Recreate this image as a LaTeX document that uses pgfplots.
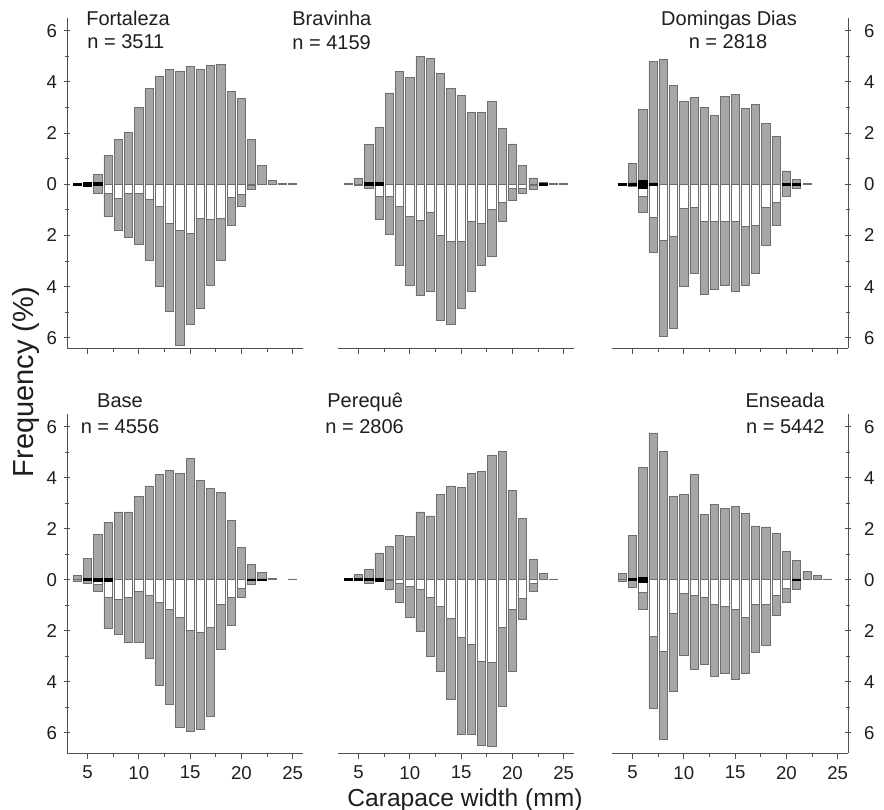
\documentclass[border=0pt]{standalone}
\usepackage{fontspec}
\setmainfont{Liberation Sans}
\usepackage{pgfplots}
\usepackage{pgfplotstable}
\pgfplotsset{compat=1.18}

\definecolor{barg}{HTML}{A6A6A6}
\definecolor{bard}{HTML}{6E6E6E}
\definecolor{axc}{HTML}{505050}
\definecolor{txt}{HTML}{1E1E1E}

% columns: size class, males (up), white part (down), gray total (down), black half (up / down)
\pgfplotstableread{
x  up    wt     tot    bk    bn
4  nan   nan    nan    0.03  -0.03
5  nan   nan    nan    0.07  -0.07
6  0.39  nan    -0.34  0.06  -0.06
7  1.12  -0.34  -1.27  nan   nan
8  1.75  -0.55  -1.82  nan   nan
9  2.03  -0.36  -2.08  nan   nan
10 3.00  -0.36  -2.35  nan   nan
11 3.73  -0.58  -2.96  nan   nan
12 4.23  -0.88  -4.00  nan   nan
13 4.48  -1.53  -4.95  nan   nan
14 4.40  -1.79  -6.30  nan   nan
15 4.61  -1.92  -5.49  nan   nan
16 4.48  -1.34  -4.84  nan   nan
17 4.64  -1.38  -3.96  nan   nan
18 4.68  -1.34  -2.96  nan   nan
19 3.62  -0.52  -1.62  nan   nan
20 3.36  -0.39  -0.88  nan   nan
21 1.75  -0.05  -0.20  nan   nan
22 0.75  nan    nan    nan   nan
23 0.15  nan    nan    nan   nan
24 0.03  nan    nan    nan   nan
25 0.03  nan    nan    nan   nan
}\fortaleza

\pgfplotstableread{
x  up    wt     tot    bk    bn
4  0.03  nan    nan    nan   nan
5  0.25  nan    -0.05  nan   nan
6  1.56  nan    -0.17  0.06  -0.06
7  2.23  -0.49  -1.36  0.06  -0.06
8  3.57  -0.49  -1.95  nan   nan
9  4.40  -0.88  -3.18  nan   nan
10 4.18  -1.25  -3.96  nan   nan
11 4.99  -1.40  -4.36  nan   nan
12 4.92  -1.10  -4.17  nan   nan
13 4.34  -2.01  -5.30  nan   nan
14 3.73  -2.25  -5.49  nan   nan
15 3.47  -2.25  -4.84  nan   nan
16 2.82  -1.43  -4.17  nan   nan
17 2.82  -1.51  -3.18  nan   nan
18 3.23  -0.97  -2.81  nan   nan
19 2.19  -0.69  -1.43  nan   nan
20 1.58  -0.14  -0.62  nan   nan
21 0.75  -0.17  -0.34  nan   nan
22 0.25  -0.05  -0.20  nan   nan
23 0.09  nan    nan    0.04  -0.04
24 0.03  nan    nan    nan   nan
25 0.03  nan    nan    nan   nan
}\bravinha

\pgfplotstableread{
x  up    wt     tot    bk    bn
4  nan   nan    nan    0.03  -0.03
5  0.80  nan    -0.10  0.05  -0.05
6  2.91  -0.49  -1.08  0.16  -0.16
7  4.81  -1.30  -2.66  0.05  -0.05
8  4.87  -2.18  -5.95  nan   nan
9  3.88  -2.03  -5.65  nan   nan
10 3.23  -0.95  -4.00  nan   nan
11 3.38  -0.91  -3.48  nan   nan
12 3.01  -1.43  -4.29  nan   nan
13 2.69  -1.43  -4.09  nan   nan
14 3.43  -1.43  -3.96  nan   nan
15 3.51  -1.43  -4.19  nan   nan
16 2.97  -1.66  -3.96  nan   nan
17 3.12  -1.60  -3.48  nan   nan
18 2.39  -0.91  -2.40  nan   nan
19 1.88  -0.69  -1.62  nan   nan
20 0.52  nan    -0.49  0.03  -0.03
21 0.18  nan    -0.17  0.04  -0.04
22 0.03  nan    nan    nan   nan
}\domingas

\pgfplotstableread{
x  up    wt     tot    bk    bn
4  0.17  nan    -0.05  nan   nan
5  0.83  nan    -0.13  0.04  -0.04
6  1.78  -0.20  -0.46  0.05  -0.05
7  2.26  -0.70  -1.91  0.05  -0.05
8  2.66  -0.79  -2.13  nan   nan
9  2.66  -0.70  -2.47  nan   nan
10 3.25  -0.46  -2.47  nan   nan
11 3.68  -0.62  -3.09  nan   nan
12 4.14  -0.88  -4.14  nan   nan
13 4.30  -1.18  -4.89  nan   nan
14 4.17  -1.47  -5.79  nan   nan
15 4.76  -2.00  -5.95  nan   nan
16 3.91  -2.08  -5.88  nan   nan
17 3.58  -1.87  -5.37  nan   nan
18 3.42  -0.96  -2.72  nan   nan
19 2.34  -0.70  -1.78  nan   nan
20 1.28  -0.33  -0.68  nan   nan
21 0.59  nan    -0.20  0.03  -0.03
22 0.30  nan    nan    0.03  -0.03
23 0.05  nan    nan    nan   nan
25 0.03  nan    nan    nan   nan
}\base

\pgfplotstableread{
x  up    wt     tot    bk    bn
4  nan   nan    nan    0.04  -0.04
5  0.20  nan    nan    0.04  -0.04
6  0.42  nan    -0.13  0.04  -0.04
7  1.05  nan    -0.05  0.05  -0.05
8  1.29  -0.03  -0.36  nan   nan
9  1.75  -0.13  -0.88  nan   nan
10 1.71  -0.26  -1.47  nan   nan
11 2.66  -0.37  -2.04  nan   nan
12 2.50  -0.68  -3.00  nan   nan
13 3.36  -1.03  -3.59  nan   nan
14 3.68  -1.51  -4.71  nan   nan
15 3.62  -2.28  -6.05  nan   nan
16 4.18  -2.54  -6.05  nan   nan
17 4.25  -3.20  -6.51  nan   nan
18 4.87  -3.25  -6.55  nan   nan
19 5.03  -1.87  -4.97  nan   nan
20 3.49  -1.16  -3.58  nan   nan
21 2.41  -0.72  -1.55  nan   nan
22 0.79  -0.16  -0.46  nan   nan
23 0.26  nan    nan    nan   nan
24 0.03  nan    nan    nan   nan
}\pereque

\pgfplotstableread{
x  up    wt     tot    bk    bn
4  0.26  nan    -0.05  nan   nan
5  1.74  nan    -0.29  0.04  -0.04
6  4.41  -0.50  -1.16  0.10  -0.10
7  5.76  -2.24  -5.03  nan   nan
8  5.03  -2.83  -6.25  nan   nan
9  3.25  -1.32  -4.38  nan   nan
10 3.33  -0.53  -2.96  nan   nan
11 4.12  -0.63  -3.51  nan   nan
12 2.57  -0.70  -3.32  nan   nan
13 2.96  -0.96  -3.79  nan   nan
14 2.80  -1.05  -3.68  nan   nan
15 2.87  -1.16  -3.91  nan   nan
16 2.59  -1.47  -3.66  nan   nan
17 2.11  -0.96  -2.87  nan   nan
18 2.07  -0.96  -2.57  nan   nan
19 1.82  -0.63  -1.38  nan   nan
20 1.12  -0.33  -0.88  nan   nan
21 0.75  nan    -0.39  0.03  -0.03
22 0.33  nan    nan    nan   nan
23 0.17  nan    nan    nan   nan
24 0.03  nan    nan    nan   nan
}\enseada

\pgfplotsset{
  panel/.style={
    scale only axis, width=118pt, xmin=3, xmax=26, ymax=6.5,
    axis x line=bottom, axis line style={-, draw=axc, line width=0.5pt},
    every outer x axis line/.append style={-},
    every outer y axis line/.append style={-},
    y axis line style={-}, x axis line style={-},
    xtick={5,10,...,25}, minor x tick num=1,
    ytick={-6,-4,...,6}, yticklabels={6,4,2,0,2,4,6}, minor y tick num=1,
    tick align=outside, major tick length=3pt, minor tick length=1.8pt,
    tick style={draw=axc, line width=0.5pt},
    tick label style={font=\fontsize{9.3}{11}\selectfont, text=txt},
    /pgf/number format/assume math mode=true,
    anchor=south west,
  },
  ptop/.style={height=165pt, ymin=-6.4, xticklabels={}},
  pbot/.style={height=169.5pt, ymin=-6.8},
  lefty/.style={axis y line=left, y axis line style={-}},
  righty/.style={axis y line=right, y axis line style={-}, yticklabel style={xshift=3pt}},
  midy/.style={hide y axis},
  gbar/.style={ybar, bar width=0.8, bar shift=0pt, fill=barg, draw=bard, line width=0.35pt},
  wbar/.style={ybar, bar width=0.8, bar shift=0pt, fill=white, draw=bard, line width=0.35pt},
  kbar/.style={ybar, bar width=0.8, bar shift=0pt, fill=black, draw=black, line width=0.35pt},
}

\newcommand{\panel}[1]{%
  \addplot[gbar] table[x=x, y=up] {#1};
  \addplot[gbar] table[x=x, y=tot] {#1};
  \addplot[wbar] table[x=x, y=wt] {#1};
  \addplot[kbar] table[x=x, y=bk] {#1};
  \addplot[kbar] table[x=x, y=bn] {#1};
}

\begin{document}
\begin{tikzpicture}
\useasboundingbox (0,0) rectangle (442pt,-404.5pt);

\begin{axis}[panel, ptop, lefty, at={(33.5pt,-174pt)}]
\panel{\fortaleza}
\end{axis}
\begin{axis}[panel, ptop, midy, at={(169pt,-174pt)}]
\panel{\bravinha}
\end{axis}
\begin{axis}[panel, ptop, righty, at={(306pt,-174pt)}]
\panel{\domingas}
\end{axis}

\begin{axis}[panel, pbot, lefty, at={(33.5pt,-376.5pt)}]
\panel{\base}
\end{axis}
\begin{axis}[panel, pbot, midy, at={(169pt,-376.5pt)}]
\panel{\pereque}
\end{axis}
\begin{axis}[panel, pbot, righty, at={(306pt,-376.5pt)}]
\panel{\enseada}
\end{axis}

\begin{scope}[every node/.style={font=\fontsize{10}{12}\selectfont, text=txt, inner sep=0pt}]
\node[anchor=base west] at (43pt,-12.5pt) {Fortaleza};
\node[anchor=base west] at (43.5pt,-24pt) {n = 3511};
\node[anchor=base west] at (146pt,-12.5pt) {Bravinha};
\node[anchor=base west] at (146pt,-24.5pt) {n = 4159};
\node[anchor=base] at (364.5pt,-12.5pt) {Domingas Dias};
\node[anchor=base] at (364pt,-24pt) {n = 2818};
\node[anchor=base] at (60pt,-203.5pt) {Base};
\node[anchor=base] at (60pt,-216.5pt) {n = 4556};
\node[anchor=base west] at (163.5pt,-203.5pt) {Perequê};
\node[anchor=base west] at (162.5pt,-216.5pt) {n = 2806};
\node[anchor=base east] at (412.5pt,-203.5pt) {Enseada};
\node[anchor=base east] at (412.5pt,-216.5pt) {n = 5442};
\end{scope}

\node[font=\fontsize{14.5}{16}\selectfont, text=txt, rotate=90, anchor=base, inner sep=0pt] at (16.5pt,-191pt) {Frequency (\%)};
\node[font=\fontsize{12.3}{14}\selectfont, text=txt, anchor=base, inner sep=0pt] at (232.5pt,-403pt) {Carapace width (mm)};
\end{tikzpicture}
\end{document}
